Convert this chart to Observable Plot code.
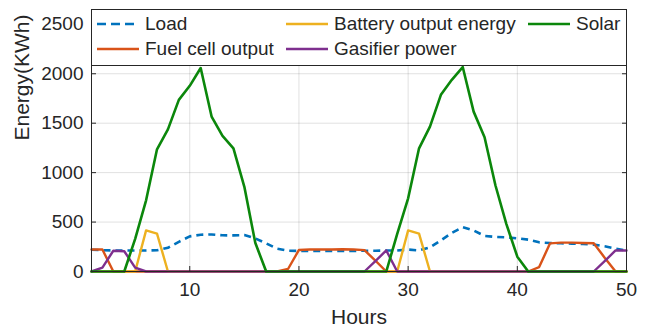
<!DOCTYPE html>
<html>
<head>
<meta charset="utf-8">
<script src="https://cdn.jsdelivr.net/npm/d3@7"></script>
<script src="https://cdn.jsdelivr.net/npm/@observablehq/plot@0.6"></script>
<style>
  body { margin: 0; background: #fff; }
  #chart { position: relative; width: 650px; height: 331px; font-family: "Liberation Sans", Arial, sans-serif; }
  #chart svg { display: block; }
  .legend { position: absolute; left: 91px; top: 9px; width: 536px; height: 57px; background: #fff;
            border: 1px solid #262626; box-sizing: border-box; }
  .item { position: absolute; height: 20px; display: flex; align-items: center; font-size: 19px;
          color: #262626; white-space: nowrap; }
  .item svg { margin-right: 4px; }
</style>
</head>
<body>
<div id="chart"></div>
<script>
// Hourly energy balance over two days
const hours = [1,2,3,4,5,6,7,8,9,10,11,12,13,14,15,16,17,18,19,20,21,22,23,24,25,
               26,27,28,29,30,31,32,33,34,35,36,37,38,39,40,41,42,43,44,45,46,47,48,49,50];

const load = [220,215,213,213,213,213,215,240,300,355,372,375,366,365,368,335,285,230,210,208,
              208,208,208,208,208,210,210,212,212,222,213,245,315,390,448,415,360,350,345,335,
              322,295,288,285,282,278,272,255,232,212];

const battery = [0,0,0,0,0,416,383,0,0,0,0,0,0,0,0,0,0,0,0,0,
                 0,0,0,0,0,0,0,0,0,416,383,0,0,0,0,0,0,0,0,0,
                 0,0,0,0,0,0,0,0,0,0];

const solar = [0,0,0,0,330,720,1236,1438,1736,1878,2058,1567,1371,1246,856,290,0,0,0,0,
               0,0,0,0,0,0,0,0,380,740,1246,1465,1787,1939,2068,1617,1357,870,480,150,
               0,0,0,0,0,0,0,0,0,0];

const fuelCell = [223,223,0,0,0,0,0,0,0,0,0,0,0,0,0,0,0,0,25,218,
                  222,224,222,225,222,216,110,0,0,0,0,0,0,0,0,0,0,0,0,0,
                  0,45,285,292,292,288,285,140,0,0];

const gasifier = [0,40,210,205,40,0,0,0,0,0,0,0,0,0,0,0,0,0,0,0,
                  0,0,0,0,0,0,105,213,0,0,0,0,0,0,0,0,0,0,0,0,
                  0,0,0,0,0,0,0,105,213,213];

const xTicks = [10, 20, 30, 40, 50];
const yTicks = [0, 500, 1000, 1500, 2000, 2500];

// Series in drawing order (later ones sit on top)
const series = [
  {name: "Load", values: load, color: "#0072BD", dash: "7,5", width: 2.6},
  {name: "Fuel cell output", values: fuelCell, color: "#D95319", dash: null, width: 2.4},
  {name: "Battery output energy", values: battery, color: "#EDB120", dash: null, width: 2.4},
  {name: "Gasifier power", values: gasifier, color: "#7E2F8E", dash: null, width: 2.4},
  {name: "Solar", values: solar, color: "#0B870B", dash: null, width: 2.6}
];

const toRows = s => hours.map((h, i) => ({hour: h, value: s.values[i]}));
const ink = "#262626";
const plain = d => String(d);

const plot = Plot.plot({
  width: 650,
  height: 331,
  marginLeft: 91,
  marginRight: 24,
  marginTop: 9,
  marginBottom: 60,
  style: {fontFamily: '"Liberation Sans", Arial, sans-serif', color: ink, background: "#fff"},
  x: {domain: [1, 50]},
  y: {domain: [0, 2650]},
  marks: [
    Plot.gridX(xTicks, {stroke: "#000", strokeOpacity: 0.12}),
    Plot.gridY(yTicks, {stroke: "#000", strokeOpacity: 0.12}),
    ...series.map(s => Plot.line(toRows(s), {
      x: "hour", y: "value", stroke: s.color, strokeWidth: s.width,
      strokeDasharray: s.dash, strokeLinejoin: "round", strokeLinecap: s.dash ? "butt" : "round"
    })),
    Plot.frame({stroke: ink, strokeWidth: 1}),
    Plot.axisX(xTicks, {tickSize: -5, tickPadding: 16, fontSize: 19, tickFormat: plain, label: null, stroke: ink, fill: ink}),
    Plot.axisY(yTicks, {tickSize: -5, tickPadding: 13, fontSize: 19, tickFormat: plain, label: null, stroke: ink, fill: ink}),
    Plot.axisY(yTicks, {anchor: "right", tickSize: -5, tickFormat: () => "", label: null, stroke: ink}),
    Plot.text(["Hours"], {frameAnchor: "bottom", dy: 52, fontSize: 21, fill: ink}),
    Plot.text(["Energy(KWh)"], {frameAnchor: "left", dx: -69, rotate: -90, fontSize: 21, fill: ink})
  ]
});

const chart = document.getElementById("chart");
chart.appendChild(plot);

// Legend box laid over the top of the axes, three columns
const legend = document.createElement("div");
legend.className = "legend";
chart.appendChild(legend);

const legendSlots = {
  "Load": [5, 4],
  "Battery output energy": [194, 4],
  "Solar": [436, 4],
  "Fuel cell output": [5, 29],
  "Gasifier power": [194, 29]
};

for (const s of series) {
  const [left, top] = legendSlots[s.name];
  const item = document.createElement("div");
  item.className = "item";
  item.style.left = left + "px";
  item.style.top = top + "px";
  const ns = "http://www.w3.org/2000/svg";
  const sw = document.createElementNS(ns, "svg");
  sw.setAttribute("width", 44);
  sw.setAttribute("height", 10);
  const ln = document.createElementNS(ns, "line");
  ln.setAttribute("x1", 0); ln.setAttribute("x2", 42);
  ln.setAttribute("y1", 5); ln.setAttribute("y2", 5);
  ln.setAttribute("stroke", s.color);
  ln.setAttribute("stroke-width", s.width);
  if (s.dash) ln.setAttribute("stroke-dasharray", "9,5");
  sw.appendChild(ln);
  item.appendChild(sw);
  const label = document.createElement("span");
  label.textContent = s.name;
  item.appendChild(label);
  legend.appendChild(item);
}
</script>
</body>
</html>
